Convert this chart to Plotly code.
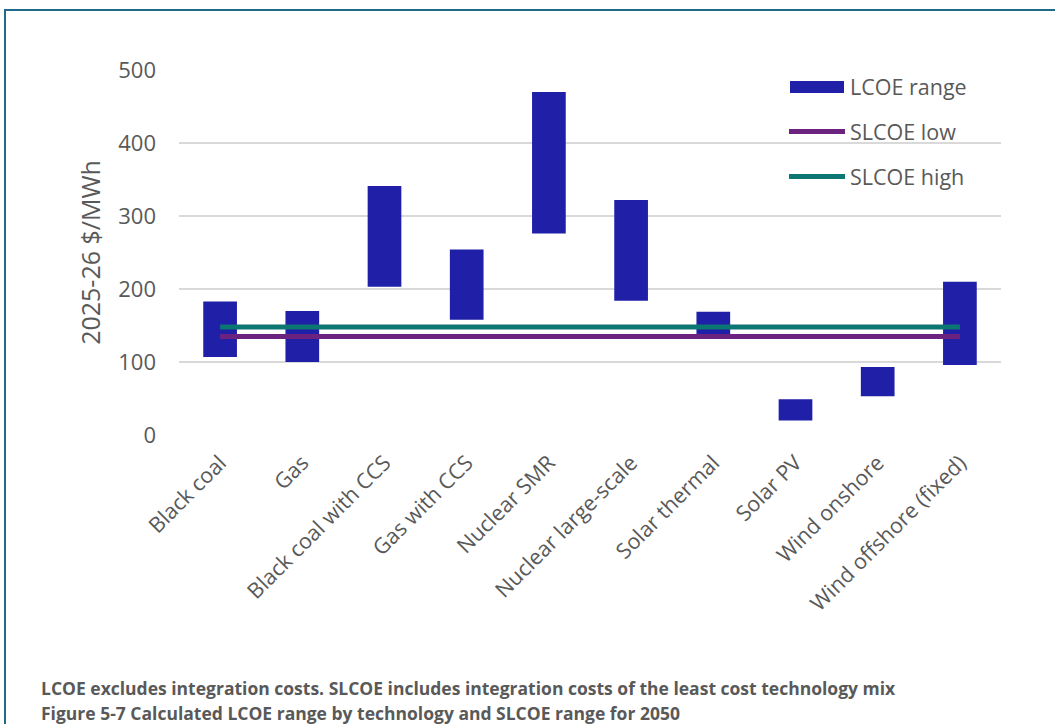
import plotly.graph_objects as go

categories = ["Black coal", "Gas", "Black coal with CCS", "Gas with CCS", "Nuclear SMR",
              "Nuclear large-scale", "Solar thermal", "Solar PV", "Wind onshore",
              "Wind offshore (fixed)"]
lcoe_low = [107, 100, 203, 158, 276, 184, 136, 20, 53, 96]
lcoe_high = [183, 170, 341, 254, 470, 322, 169, 49, 93, 210]
slcoe_low = [135, 135, 135, 135, 135, 135, 135, 135, 135, 135]
slcoe_high = [148, 148, 148, 148, 148, 148, 148, 148, 148, 148]
y_ticks = [0, 100, 200, 300, 400, 500]

BAR = "#1f1fa8"
PURPLE = "#6c2380"
TEAL = "#0c7672"
GREY = "#595959"
FONT = "Open Sans, Liberation Sans, sans-serif"

# pixel layout helpers (plot area 179..1001 x, 70..435 y)
L, R, T, B = 179, 1001, 70, 435
def px(x):
    return (x - L) / (R - L)
def py(y):
    return (B - y) / (B - T)

fig = go.Figure()
fig.add_trace(go.Bar(
    x=categories,
    y=[h - l for h, l in zip(lcoe_high, lcoe_low)],
    base=lcoe_low,
    width=0.41,
    marker=dict(color=BAR, line=dict(width=0)),
    name="LCOE range",
    showlegend=False,
))
fig.add_trace(go.Scatter(x=categories, y=slcoe_low, mode="lines",
                         line=dict(color=PURPLE, width=5), name="SLCOE low", showlegend=False))
fig.add_trace(go.Scatter(x=categories, y=slcoe_high, mode="lines",
                         line=dict(color=TEAL, width=5), name="SLCOE high", showlegend=False))

shapes = [
    # frame
    dict(type="rect", xref="paper", yref="paper", x0=px(5), x1=px(1070), y0=py(10), y1=py(760),
         line=dict(color="#1f6b8c", width=2), fillcolor="rgba(0,0,0,0)", layer="below"),
    # legend swatches
    dict(type="rect", xref="paper", yref="paper", x0=px(790), x1=px(844), y0=py(81), y1=py(93),
         fillcolor=BAR, line=dict(width=0)),
    dict(type="line", xref="paper", yref="paper", x0=px(789), x1=px(845), y0=py(131.5), y1=py(131.5),
         line=dict(color=PURPLE, width=5)),
    dict(type="line", xref="paper", yref="paper", x0=px(789), x1=px(845), y0=py(176.5), y1=py(176.5),
         line=dict(color=TEAL, width=5)),
]

annotations = []
for label, yy in [("LCOE range", 86.5), ("SLCOE low", 131), ("SLCOE high", 176)]:
    annotations.append(dict(text=label, xref="paper", yref="paper", x=px(848), y=py(yy),
                            xanchor="left", yanchor="middle", showarrow=False,
                            font=dict(family=FONT, size=21.5, color=GREY)))
annotations.append(dict(text="LCOE excludes integration costs. SLCOE includes integration costs of the least cost technology mix",
                        xref="paper", yref="paper", x=px(39), y=py(688), xanchor="left", yanchor="middle",
                        showarrow=False, font=dict(family=FONT, size=17.5, color=GREY, weight="bold")))
annotations.append(dict(text="Figure 5-7 Calculated LCOE range by technology and SLCOE range for 2050",
                        xref="paper", yref="paper", x=px(39), y=py(713), xanchor="left", yanchor="middle",
                        showarrow=False, font=dict(family=FONT, size=17.5, color=GREY, weight="bold")))

fig.update_layout(
    width=1055, height=724,
    margin=dict(l=L, r=1055 - R, t=T, b=724 - B),
    paper_bgcolor="white", plot_bgcolor="white",
    font=dict(family=FONT, color=GREY),
    shapes=shapes, annotations=annotations,
    showlegend=False,
)
fig.update_xaxes(
    type="category", tickangle=-45, showgrid=False, showline=False, zeroline=False,
    tickfont=dict(family=FONT, size=21.5, color=GREY), ticks="", ticklabelstandoff=10,
)
fig.update_yaxes(
    range=[0, 500], tickvals=y_ticks, showgrid=True, gridcolor="#d9d9d9", gridwidth=1.5,
    zeroline=False, showline=False, ticks="", ticklabelstandoff=22,
    tickfont=dict(family=FONT, size=22, color=GREY),
    title=dict(text="2025-26 $/MWh", font=dict(family=FONT, size=25, color=GREY), standoff=10),
)

fig.write_html("out.html")
